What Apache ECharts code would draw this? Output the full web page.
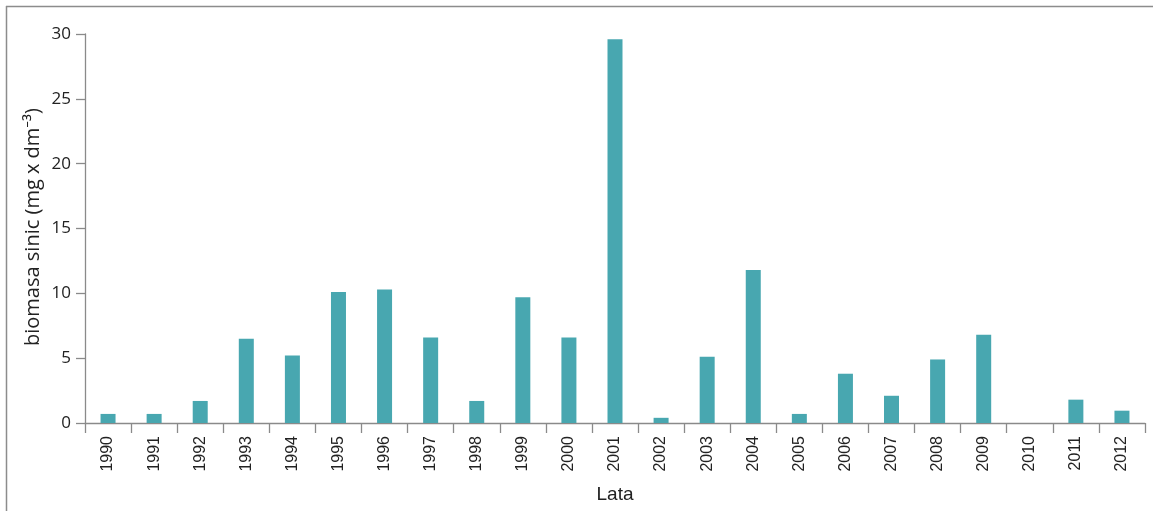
<!DOCTYPE html>
<html>
<head>
<meta charset="utf-8">
<script src="https://cdn.jsdelivr.net/npm/echarts@6/dist/echarts.min.js"></script>
<style>
  html, body { margin: 0; padding: 0; background: #fff; }
  #chart { width: 1153px; height: 511px; }
</style>
</head>
<body>
<div id="chart"></div>
<script>
// Roczna biomasa sinic
const years = ['1990','1991','1992','1993','1994','1995','1996','1997','1998','1999','2000','2001',
               '2002','2003','2004','2005','2006','2007','2008','2009','2010','2011','2012'];
const biomass = [0.7, 0.7, 1.7, 6.5, 5.2, 10.1, 10.3, 6.6, 1.7, 9.7, 6.6, 29.6,
                 0.4, 5.1, 11.8, 0.7, 3.8, 2.1, 4.9, 6.8, 0, 1.8, 0.95];
const yTicks = [0, 5, 10, 15, 20, 25, 30];
const yTitle = 'biomasa sinic (mg x dm⁻³)';
const xTitle = 'Lata';

const axisGray = '#8a8a8a';
const chart = echarts.init(document.getElementById('chart'), null, { renderer: 'canvas' });

chart.setOption({
  animation: false,
  backgroundColor: '#ffffff',
  graphic: [
    { type: 'line', shape: { x1: 6, y1: 6.5, x2: 1153, y2: 6.5 }, style: { stroke: '#8c8c8c', lineWidth: 1.5 } },
    { type: 'line', shape: { x1: 6.5, y1: 6, x2: 6.5, y2: 511 }, style: { stroke: '#8c8c8c', lineWidth: 1.5 } },
    {
      type: 'text', x: 33, y: 227, rotation: Math.PI / 2,
      style: {
        text: yTitle, fill: '#222', align: 'center', verticalAlign: 'middle',
        font: '20px "Open Sans", "Noto Sans", sans-serif'
      }
    }
  ],
  grid: { left: 85, right: 8, top: 34, bottom: 88 },
  xAxis: {
    type: 'category',
    data: years,
    name: xTitle,
    nameLocation: 'middle',
    nameGap: 62,
    nameTextStyle: { fontFamily: 'Liberation Sans, Arial, sans-serif', fontSize: 19, color: '#222' },
    axisLine: { show: true, lineStyle: { color: axisGray, width: 1.3 } },
    axisTick: { show: true, length: 10, interval: 0, alignWithLabel: false, lineStyle: { color: axisGray, width: 1.3 } },
    axisLabel: {
      rotate: 90, interval: 0, margin: 13,
      fontFamily: 'Liberation Sans, Arial, sans-serif', fontSize: 16, color: '#222'
    },
    splitLine: { show: false }
  },
  yAxis: {
    type: 'value',
    min: 0, max: 30, interval: 5,
    axisLine: { show: true, lineStyle: { color: axisGray, width: 1.3 } },
    axisTick: { show: true, length: 9, lineStyle: { color: axisGray, width: 1.3 } },
    axisLabel: {
      margin: 14,
      fontFamily: 'Open Sans, Noto Sans, sans-serif', fontSize: 17, color: '#222',
      formatter: v => yTicks.includes(v) ? String(v) : ''
    },
    splitLine: { show: false }
  },
  series: [{
    type: 'bar',
    data: biomass,
    barWidth: 15,
    itemStyle: { color: '#48a7b0' }
  }]
});
</script>
</body>
</html>
